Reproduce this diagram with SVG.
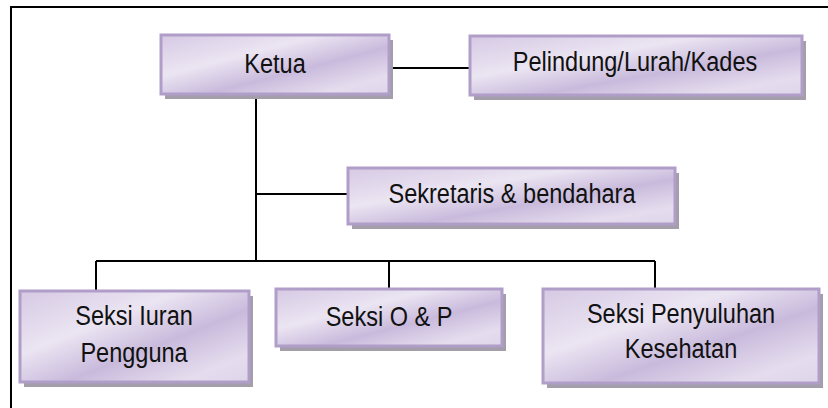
<svg xmlns="http://www.w3.org/2000/svg" width="828" height="408" viewBox="0 0 828 408">
  <style>
    .box { fill: url(#boxFill); stroke: #b09ec9; stroke-width: 3; }
    .shadow { fill: #a39ea9; }
    .wire { stroke: #000; stroke-width: 2; fill: none; }
    .label { font-family: "Liberation Sans", Arial, sans-serif; font-size: 24px; fill: #111; text-anchor: middle; }
  </style>
  <defs>
    <linearGradient id="boxFill" x1="0" y1="0" x2="1" y2="1">
      <stop offset="0" stop-color="#d6c9e4"/>
      <stop offset="0.35" stop-color="#ebe5f2"/>
      <stop offset="0.6" stop-color="#c9badc"/>
      <stop offset="0.85" stop-color="#e5ddee"/>
      <stop offset="1" stop-color="#ddd4e9"/>
    </linearGradient>
  </defs>

  <rect width="828" height="408" fill="#fff"/>

  <!-- page frame (top and left edges) -->
  <path class="wire" d="M11 408 V7 H828" stroke-width="2.5"/>

  <!-- connectors -->
  <g id="connectors">
    <path class="wire" d="M389 68 H470"/>
    <path class="wire" d="M256 94 V261"/>
    <path class="wire" d="M256 194 H348"/>
    <path class="wire" d="M96 261 H655"/>
    <path class="wire" d="M96 261 V291"/>
    <path class="wire" d="M389 261 V289"/>
    <path class="wire" d="M655 261 V289"/>
  </g>

  <g id="ketua">
    <rect class="shadow" x="165" y="40" width="228" height="59"/>
    <rect class="box" x="161" y="35" width="228" height="59"/>
    <text class="label" transform="translate(275 73) scale(0.98 1.14)">Ketua</text>
  </g>

  <g id="pelindung">
    <rect class="shadow" x="474" y="41" width="332" height="59"/>
    <rect class="box" x="470" y="36" width="332" height="59"/>
    <text class="label" transform="translate(635 71) scale(0.98 1.14)">Pelindung/Lurah/Kades</text>
  </g>

  <g id="sekretaris">
    <rect class="shadow" x="352" y="173" width="327" height="56"/>
    <rect class="box" x="348" y="168" width="327" height="56"/>
    <text class="label" transform="translate(512 203) scale(0.98 1.14)">Sekretaris &amp; bendahara</text>
  </g>

  <g id="seksi-iuran">
    <rect class="shadow" x="24" y="296" width="229" height="91"/>
    <rect class="box" x="20" y="291" width="229" height="91"/>
    <text class="label" transform="translate(134 325) scale(0.98 1.14)">Seksi Iuran</text>
    <text class="label" transform="translate(134 362) scale(0.98 1.14)">Pengguna</text>
  </g>

  <g id="seksi-op">
    <rect class="shadow" x="280" y="294" width="226" height="57"/>
    <rect class="box" x="276" y="289" width="226" height="57"/>
    <text class="label" transform="translate(389 326) scale(0.98 1.14)">Seksi O &amp; P</text>
  </g>

  <g id="seksi-penyuluhan">
    <rect class="shadow" x="547" y="294" width="276" height="94"/>
    <rect class="box" x="543" y="289" width="276" height="94"/>
    <text class="label" transform="translate(681 323) scale(0.98 1.14)">Seksi Penyuluhan</text>
    <text class="label" transform="translate(681 358) scale(0.98 1.14)">Kesehatan</text>
  </g>
</svg>
